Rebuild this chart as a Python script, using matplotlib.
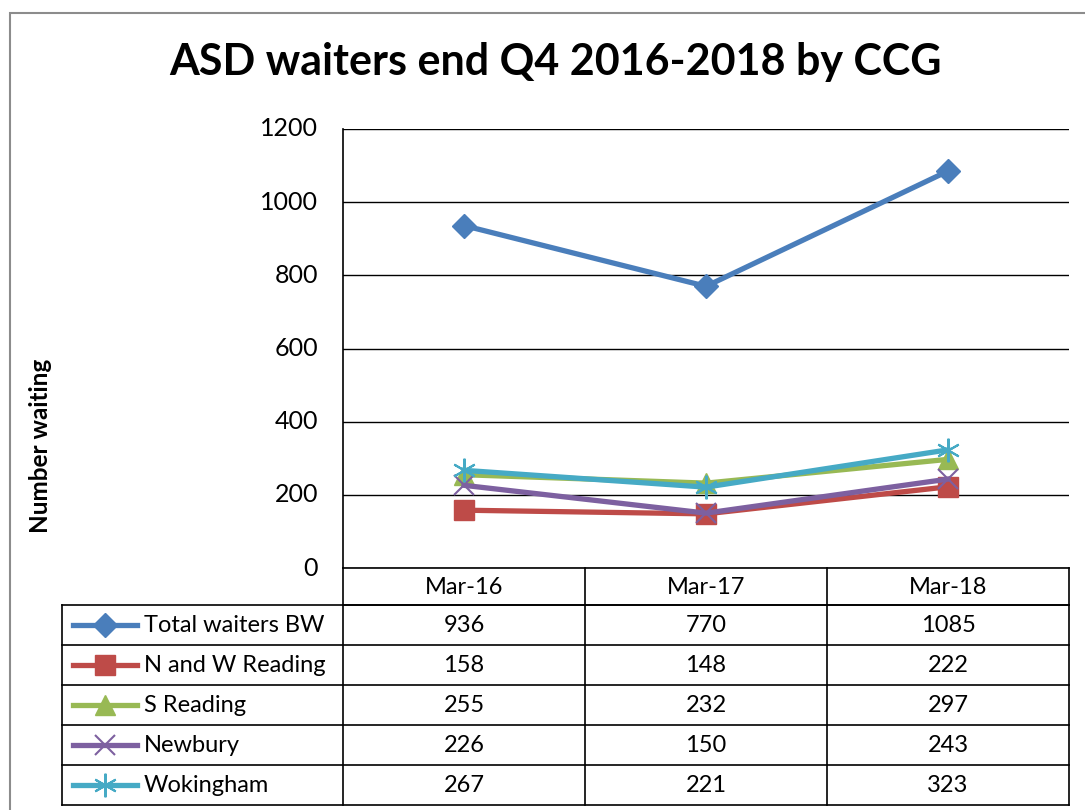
import matplotlib.pyplot as plt
from matplotlib.patches import Rectangle

plt.rcParams['font.family'] = ['Lato', 'DejaVu Sans']

months = ['Mar-16', 'Mar-17', 'Mar-18']
series = ['Total waiters BW', 'N and W Reading', 'S Reading', 'Newbury', 'Wokingham']
total_bw = [936, 770, 1085]
nw_reading = [158, 148, 222]
s_reading = [255, 232, 297]
newbury = [226, 150, 243]
wokingham = [267, 221, 323]
values = [total_bw, nw_reading, s_reading, newbury, wokingham]

colors = ['#4A7EBB', '#BE4B48', '#98B954', '#7D60A0', '#46AAC5']
markers = ['D', 's', '^', 'x', (6, 2, 0)]
msizes = [12, 14, 14, 15, 17]

W, H = 1085, 810
fig = plt.figure(figsize=(W / 100, H / 100), dpi=100)

def fx(px):
    return px / W

def fy(py):
    return 1 - py / H

def marker_style(m, ms, c):
    d = dict(marker=m, markersize=ms, color=c)
    if m == 'x' or isinstance(m, tuple):
        d['markeredgewidth'] = 1.5
    return d

# outer chart border
fig.patches.append(Rectangle((fx(10), fy(830)), fx(1100) - fx(10), fy(13) - fy(830),
                             transform=fig.transFigure, fill=False, ec='#8c8c8c', lw=1.5))

fig.text(fx(555), fy(62), 'ASD waiters end Q4 2016-2018 by CCG', ha='center', va='center',
         fontsize=31, fontweight='bold')

# main plot
L, R, T, B = 343, 1069, 129, 568
ax = fig.add_axes([fx(L), fy(B), fx(R) - fx(L), fy(T) - fy(B)])
x = range(len(months))
for name, vals, c, m, ms in zip(series, values, colors, markers, msizes):
    ax.plot(x, vals, lw=3.8, zorder=3, **marker_style(m, ms, c))
ax.set_xlim(-0.5, 2.5)
ax.set_ylim(0, 1200)
ax.set_yticks(range(0, 1201, 200))
ax.set_xticks([])
ax.tick_params(axis='y', length=0, pad=18, labelsize=18)
ax.grid(axis='y', color='black', lw=1)
for s in ['top', 'right']:
    ax.spines[s].set_visible(False)
ax.spines['left'].set_linewidth(1.2)
ax.spines['bottom'].set_linewidth(1.2)
ax.set_axisbelow(True)
for lbl in ax.get_yticklabels():
    lbl.set_va('center')

fig.text(fx(41), fy(446), 'Number waiting', rotation=90, ha='center', va='center',
         fontsize=17.5, fontweight='bold')

# data table
tax = fig.add_axes([0, 0, 1, 1])
tax.set_xlim(0, W)
tax.set_ylim(H, 0)
tax.axis('off')
col_edges = [L, 585, 827, R]
row_edges = [B, 605, 645, 685, 725, 765, 805]
lk = dict(color='black', lw=1.2)
tax.plot([L, R], [row_edges[1]] * 2, **lk)
for cx in col_edges:
    tax.plot([cx, cx], [B, row_edges[-1]], **lk)
for ry in row_edges[1:]:
    tax.plot([62, R], [ry, ry], **lk)
tax.plot([62, 62], [row_edges[1], row_edges[-1]], **lk)
for i, mth in enumerate(months):
    cx = (col_edges[i] + col_edges[i + 1]) / 2
    tax.text(cx, (row_edges[0] + row_edges[1]) / 2 + 1, mth, ha='center', va='center', fontsize=17)
for r, (name, vals, c, m, ms) in enumerate(zip(series, values, colors, markers, msizes)):
    cy = (row_edges[r + 1] + row_edges[r + 2]) / 2
    tax.plot([73, 137], [cy, cy], color=c, lw=3.8)
    tax.plot([105], [cy], **marker_style(m, ms, c))
    tax.text(144, cy + 1, name, ha='left', va='center', fontsize=17)
    for i, v in enumerate(vals):
        cx = (col_edges[i] + col_edges[i + 1]) / 2
        tax.text(cx, cy + 1, str(v), ha='center', va='center', fontsize=17)

fig.savefig('out.png', dpi=100)
